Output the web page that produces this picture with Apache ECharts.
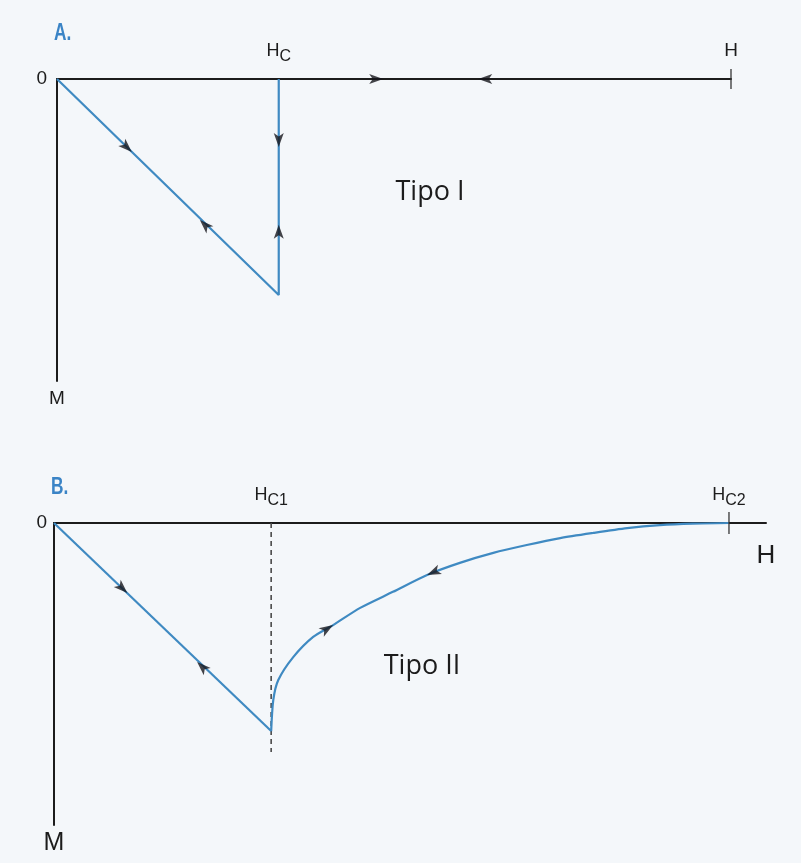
<!DOCTYPE html>
<html>
<head>
<meta charset="utf-8">
<script src="https://cdn.jsdelivr.net/npm/echarts@6/dist/echarts.min.js"></script>
<style>
  html, body { margin: 0; padding: 0; background: #f4f7fa; }
  #chart { width: 801px; height: 863px; }
</style>
</head>
<body>
<div id="chart"></div>
<script>
// Magnetisation M against applied field H for type I and type II superconductors.
// Both quantities are in arbitrary units; M is negative (diamagnetic), drawn downwards.

const fieldRange = [0, 10];
const magnetRange = [-10, 0];

// ---- Type I ----
const typeIHc = 3.29;
const typeIHEnd = 10;
const typeIPath = [[0, 0], [3.29, -7.15], [3.29, 0]];
// arrowheads: [H, M, dH, dM] (position and heading)
const typeIArrows = [
  [1.11, -2.42, 3.29, -7.15],
  [2.12, -4.67, -3.29, 7.15],
  [3.29, -2.25, 0, -1],
  [3.29, -4.83, 0, 1],
  [4.84, 0, 1, 0],
  [6.25, 0, -1, 0]
];
const typeITopLabels = [[typeIHc, 'H', 'C'], [typeIHEnd, 'H', '']];

// ---- Type II ----
const typeIIHc1 = 3.05;
const typeIIHc2 = 9.48;
const typeIIDescent = [[0, 0], [3.05, -6.89]];
const typeIIRecovery = [
  [3.05, -6.89], [3.08, -5.86], [3.15, -5.20], [3.36, -4.44], [3.64, -3.77],
  [3.92, -3.38], [4.30, -2.81], [4.76, -2.28], [5.24, -1.72], [5.70, -1.32],
  [6.17, -0.99], [6.64, -0.73], [7.11, -0.50], [7.57, -0.33], [8.05, -0.17],
  [8.51, -0.07], [8.97, -0.02], [9.48, 0]
];
const typeIIGuide = [[3.05, 0], [3.05, -7.58]];
const typeIIArrows = [
  [1.03, -2.32, 3.05, -6.89],
  [2.01, -4.60, -3.05, 6.89],
  [3.92, -3.38, 0.66, 0.96],
  [5.24, -1.72, -0.94, -0.96]
];
const typeIITopLabels = [[typeIIHc1, 'H', 'C1'], [typeIIHc2, 'H', 'C2']];

const zeroLabel = '0';
const fieldName = 'H';
const magnetName = 'M';
const panelTitles = ['A.', 'B.'];
const typeTitles = ['Tipo I', 'Tipo II'];

const BLUE = '#3f8ac2';
const INK = '#1c1c1c';
const FONT = '"Liberation Sans", Arial, sans-serif';

const chart = echarts.init(document.getElementById('chart'), null, { renderer: 'canvas' });

function topFormatter(list) {
  return function (v) {
    const hit = list.find(e => Math.abs(e[0] - v) < 1e-6);
    if (!hit) return '';
    return hit[2] ? '{m|' + hit[1] + '}{s|' + hit[2] + '}' : '{b|' + hit[1] + '}';
  };
}

const topRich = {
  m: { fontSize: 18, fontFamily: FONT, color: INK, lineHeight: 28, verticalAlign: 'middle' },
  s: { fontSize: 16, fontFamily: FONT, color: INK, padding: [12, 0, 0, 0] },
  b: { fontSize: 19, fontFamily: FONT, color: INK, lineHeight: 28 }
};

function xAxisFor(gridIndex, labels, nameOpts) {
  return Object.assign({
    gridIndex, type: 'value', min: fieldRange[0], max: fieldRange[1], position: 'top',
    axisLine: { show: true, onZero: false, lineStyle: { color: INK, width: 2 } },
    axisTick: { show: false },
    splitLine: { show: false },
    axisLabel: {
      customValues: labels.map(e => e[0]),
      formatter: topFormatter(labels),
      margin: 14, rich: topRich, showMinLabel: true, showMaxLabel: true
    }
  }, nameOpts);
}

function yAxisFor(gridIndex, nameSize, nameGap, labelMargin) {
  return {
    gridIndex, type: 'value', min: magnetRange[0], max: magnetRange[1], position: 'left',
    axisLine: { show: true, onZero: false, lineStyle: { color: INK, width: 2 } },
    axisTick: { show: false },
    splitLine: { show: false },
    axisLabel: {
      customValues: [0], formatter: () => zeroLabel, margin: labelMargin,
      fontSize: 19, fontFamily: FONT, color: INK, showMaxLabel: true
    },
    name: magnetName, nameLocation: 'start', nameGap,
    nameTextStyle: { fontSize: nameSize, fontFamily: FONT, color: INK, align: 'center', verticalAlign: 'top' }
  };
}

const arrowStyle = { color: '#15151c' };
const arrowSize = [7.5, 14];
const titleFont = 'bold 24px "Liberation Sans", Arial, sans-serif';

chart.setOption({
  animation: false,
  backgroundColor: '#f4f7fa',
  grid: [
    { left: 57, top: 79, width: 674, height: 302 },
    { left: 54, top: 523, width: 712, height: 302 }
  ],
  xAxis: [
    xAxisFor(0, typeITopLabels, {}),
    xAxisFor(1, typeIITopLabels, {
      name: fieldName, nameLocation: 'end', nameGap: 0,
      nameTextStyle: { fontSize: 26, fontFamily: FONT, color: INK, align: 'center', verticalAlign: 'top', padding: [20, 0, 0, 0] }
    })
  ],
  yAxis: [
    yAxisFor(0, 19, 8, 10),
    yAxisFor(1, 25, 6, 7)
  ],
  graphic: [
    { type: 'text', x: 54, y: 21, scaleX: 0.72, style: { text: panelTitles[0], fill: '#3a84c6', font: titleFont } },
    { type: 'text', x: 51, y: 475, scaleX: 0.72, style: { text: panelTitles[1], fill: '#3a84c6', font: titleFont } },
    { type: 'text', x: 430, y: 192, style: { text: typeTitles[0], fill: INK, font: '27px "Open Sans", sans-serif', align: 'center', verticalAlign: 'middle' } },
    { type: 'text', x: 422, y: 666, style: { text: typeTitles[1], fill: INK, font: '27px "Open Sans", sans-serif', align: 'center', verticalAlign: 'middle' } }
  ],
  series: [
    {
      type: 'line', xAxisIndex: 0, yAxisIndex: 0, data: typeIPath, showSymbol: false, clip: false,
      lineStyle: { color: BLUE, width: 2.2 }, z: 3
    },
    {
      id: 'arrowsA', type: 'scatter', xAxisIndex: 0, yAxisIndex: 0, clip: false, z: 5,
      symbol: 'arrow', symbolSize: arrowSize, itemStyle: arrowStyle,
      data: typeIArrows.map(a => [a[0], a[1]])
    },
    {
      type: 'scatter', xAxisIndex: 0, yAxisIndex: 0, clip: false, z: 4,
      symbol: 'rect', symbolSize: [1.6, 20], itemStyle: { color: '#333' },
      data: [[typeIHEnd, 0]]
    },
    {
      type: 'line', xAxisIndex: 1, yAxisIndex: 1, data: typeIIGuide, showSymbol: false, clip: false,
      lineStyle: { color: '#4a4a4a', width: 1.6, type: [5, 4] }, z: 2
    },
    {
      type: 'line', xAxisIndex: 1, yAxisIndex: 1, data: typeIIDescent, showSymbol: false, clip: false,
      lineStyle: { color: BLUE, width: 2.2 }, z: 3
    },
    {
      type: 'line', xAxisIndex: 1, yAxisIndex: 1, data: typeIIRecovery, showSymbol: false, clip: false,
      smooth: 0.25,
      lineStyle: { color: BLUE, width: 2.2 }, z: 3
    },
    {
      id: 'arrowsB', type: 'scatter', xAxisIndex: 1, yAxisIndex: 1, clip: false, z: 5,
      symbol: 'arrow', symbolSize: arrowSize, itemStyle: arrowStyle,
      data: typeIIArrows.map(a => [a[0], a[1]])
    },
    {
      type: 'scatter', xAxisIndex: 1, yAxisIndex: 1, clip: false, z: 4,
      symbol: 'rect', symbolSize: [1.6, 22], itemStyle: { color: '#333' },
      data: [[typeIIHc2, 0]]
    }
  ]
});

// Turn each arrowhead along its heading, measured on screen.
function orientArrows(list, gridIndex) {
  return list.map(([x, y, dx, dy]) => {
    const p0 = chart.convertToPixel({ gridIndex }, [x, y]);
    const p1 = chart.convertToPixel({ gridIndex }, [x + dx * 0.01, y + dy * 0.01]);
    const ang = Math.atan2(-(p1[1] - p0[1]), p1[0] - p0[0]) * 180 / Math.PI;
    return { value: [x, y], symbolRotate: ang - 90 };
  });
}

chart.setOption({
  series: [
    { id: 'arrowsA', data: orientArrows(typeIArrows, 0) },
    { id: 'arrowsB', data: orientArrows(typeIIArrows, 1) }
  ]
});
</script>
</body>
</html>
